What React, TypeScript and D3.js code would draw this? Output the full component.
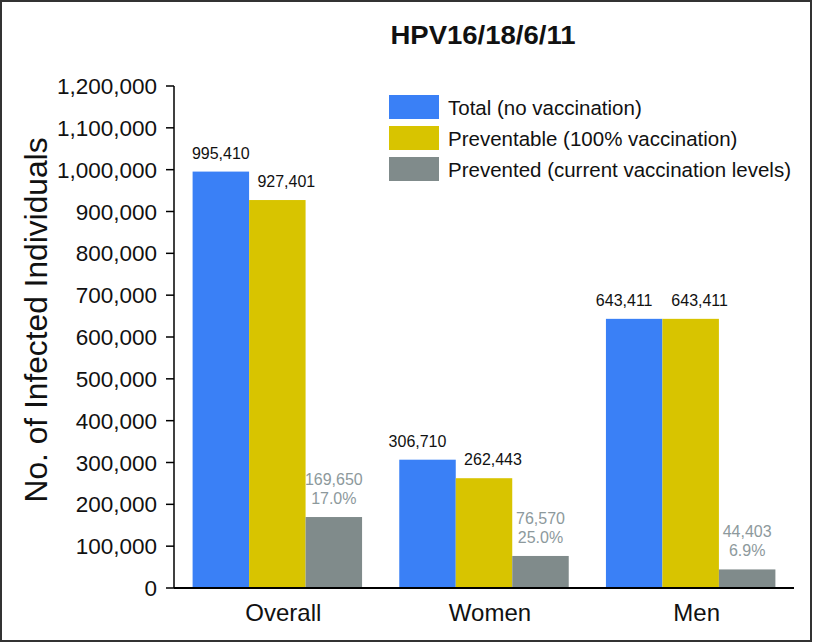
import React from "react";
import * as d3 from "d3";

const categories = ["Overall", "Women", "Men"];
const seriesNames = [
  "Total (no vaccination)",
  "Preventable (100% vaccination)",
  "Prevented (current vaccination levels)",
];
const totalValues = [995410, 306710, 643411];
const preventableValues = [927401, 262443, 643411];
const preventedValues = [169650, 76570, 44403];
const preventedPct = ["17.0%", "25.0%", "6.9%"];
const yTicks = [0, 100000, 200000, 300000, 400000, 500000, 600000, 700000, 800000, 900000, 1000000, 1100000, 1200000];
const title = "HPV16/18/6/11";
const yTitle = "No. of Infected Individuals";

const colors = ["#3a80f6", "#d8c400", "#808b8b"];
const grayText = "#8d999c";
const font = "'Liberation Sans', Arial, Helvetica, sans-serif";

export default function App() {
  const W = 815, H = 643;
  const x0 = 174, x1 = 794, yTop = 86, yBot = 588;
  const y = d3.scaleLinear().domain([0, 1200000]).range([yBot, yTop]);
  const xb = d3.scaleBand().domain(categories).range([x0, x1]).paddingInner(0.18).paddingOuter(0.09);
  const xs = d3.scaleBand().domain(["0", "1", "2"]).range([0, xb.bandwidth()]);
  const fmt = d3.format(",");
  const series = [totalValues, preventableValues, preventedValues];

  return (
    <svg width={W} height={H} style={{ position: "absolute", left: 0, top: 0 }} fontFamily={font}>
      <rect x={1} y={1} width={810} height={640} fill="#fff" stroke="#333" strokeWidth={2} />
      <text x={483} y={44} textAnchor="middle" fontWeight="bold" fontSize={25} textLength={185} lengthAdjust="spacingAndGlyphs" fill="#111">{title}</text>

      {/* y axis */}
      <line x1={x0} x2={x0} y1={yTop} y2={yBot} stroke="#000" strokeWidth={1.5} />
      {yTicks.map((t) => (
        <g key={t}>
          <line x1={x0 - 8} x2={x0} y1={y(t)} y2={y(t)} stroke="#000" strokeWidth={1.5} />
          <text x={157} y={y(t)} dy="0.36em" textAnchor="end" fontSize={22.5} fill="#111">{fmt(t)}</text>
        </g>
      ))}
      <text transform={`translate(47,${320}) rotate(-90)`} textAnchor="middle" fontSize={31} textLength={365} lengthAdjust="spacingAndGlyphs" fill="#111">{yTitle}</text>

      {/* bars */}
      {categories.map((c, i) => {
        const gx = xb(c)!;
        return (
          <g key={c}>
            {series.map((vals, s) => (
              <rect key={s} x={gx + xs(String(s))!} y={y(vals[i])} width={xs.bandwidth()} height={yBot - y(vals[i])} fill={colors[s]} />
            ))}
          </g>
        );
      })}

      {/* labels */}
      {categories.map((c, i) => {
        const gx = xb(c)!;
        const bw = xs.bandwidth();
        const cx = (s: number) => gx + xs(String(s))! + bw / 2;
        const yb = y(totalValues[i]);
        const yp = y(preventableValues[i]);
        const close = Math.abs(yb - yp) < 20;
        return (
          <g key={c} fontSize={16}>
            <text x={cx(0) + (close ? -10 : 0)} y={yb - 13} textAnchor="middle" fill="#111">{fmt(totalValues[i])}</text>
            <text x={cx(1) + 9} y={yp - 13} textAnchor="middle" fill="#111">{fmt(preventableValues[i])}</text>
            <text x={cx(2)} y={y(preventedValues[i]) - 32} textAnchor="middle" fill={grayText}>{fmt(preventedValues[i])}</text>
            <text x={cx(2)} y={y(preventedValues[i]) - 13} textAnchor="middle" fill={grayText}>{preventedPct[i]}</text>
          </g>
        );
      })}

      {/* x axis */}
      <line x1={x0} x2={x1} y1={yBot} y2={yBot} stroke="#000" strokeWidth={2} />
      {categories.map((c) => (
        <text key={c} x={xb(c)! + xb.bandwidth() / 2 + 6} y={621} textAnchor="middle" fontSize={24} fill="#111">{c}</text>
      ))}

      {/* legend */}
      {seriesNames.map((n, i) => (
        <g key={n} transform={`translate(389,${95 + i * 31})`}>
          <rect x={0} y={0} width={50} height={24} fill={colors[i]} />
          <text x={59} y={20} fontSize={20.5} fill="#111">{n}</text>
        </g>
      ))}
    </svg>
  );
}
